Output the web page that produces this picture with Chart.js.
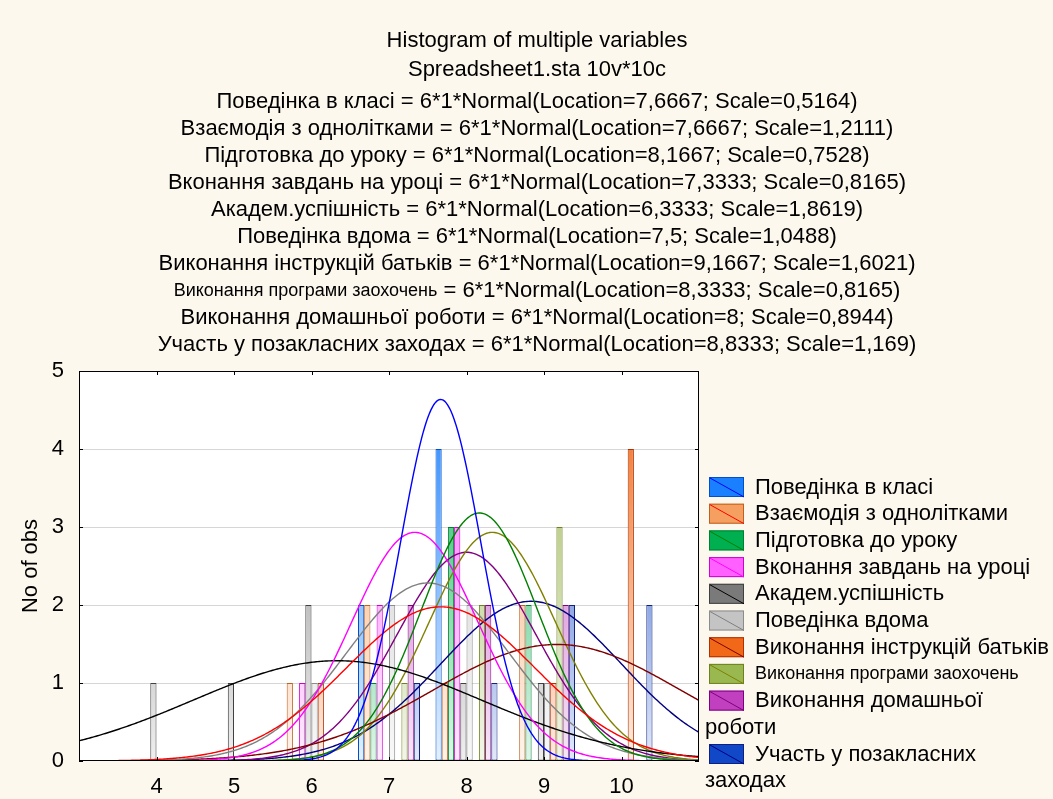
<!DOCTYPE html>
<html>
<head>
<meta charset="utf-8">
<script src="https://cdn.jsdelivr.net/npm/chart.js@4"></script>
<style>
  body { margin: 0; background: #fdf8ed; }
  #wrap { width: 1053px; height: 799px; }
</style>
</head>
<body>
<div id="wrap"><canvas id="hist" width="1053" height="799"></canvas></div>
<script>
// values on the x axis (bin centres, bin width 1)
const binValues = [4, 5, 6, 7, 8, 9, 10];

// counts per bin, one array per variable
const povedinkaKlasi     = [0, 0, 0, 2, 4, 0, 0];
const vzaiemodiia        = [0, 0, 1, 2, 1, 2, 0];
const pidhotovka         = [0, 0, 0, 1, 3, 2, 0];
const vykonanniaZavdan   = [0, 0, 1, 2, 3, 0, 0];
const akademUspishnist   = [1, 1, 2, 0, 1, 1, 0];
const povedinkaVdoma     = [0, 0, 1, 2, 2, 1, 0];
const instruktsiiBatkiv  = [0, 0, 1, 0, 0, 1, 4];
const prohramaZaokhochen = [0, 0, 0, 1, 2, 3, 0];
const domashniaRobota    = [0, 0, 0, 2, 2, 2, 0];
const pozaklasniZakhody  = [0, 0, 0, 1, 1, 2, 2];

const seriesNames = [
  "Поведінка в класі",
  "Взаємодія з однолітками",
  "Підготовка до уроку",
  "Вконання завдань на уроці",
  "Академ.успішність",
  "Поведінка вдома",
  "Виконання інструкцій батьків",
  "Виконання програми заохочень",
  "Виконання домашньої роботи",
  "Участь у позакласних заходах",
];

// fitted normal parameters, as printed in the title
const locations = [7.6667, 7.6667, 8.1667, 7.3333, 6.3333, 7.5, 9.1667, 8.3333, 8, 8.8333];
const scales    = [0.5164, 1.2111, 0.7528, 0.8165, 1.8619, 1.0488, 1.6021, 0.8165, 0.8944, 1.169];
const nObs = 6;
const binWidth = 1;

const headLines = ["Histogram of multiple variables", "Spreadsheet1.sta 10v*10c"];
const yTicks = [0, 1, 2, 3, 4, 5];
const xTicks = [4, 5, 6, 7, 8, 9, 10];

const allCounts = [povedinkaKlasi, vzaiemodiia, pidhotovka, vykonanniaZavdan, akademUspishnist,
  povedinkaVdoma, instruktsiiBatkiv, prohramaZaokhochen, domashniaRobota, pozaklasniZakhody];

const barFill  = ["#1a80ff", "#f5a060", "#00b050", "#ff60ff", "#7a7a7a", "#c4c4c4", "#f06818", "#9ab850", "#c040c0", "#1048c8"];
const barEdge  = ["#0050c8", "#c06020", "#008030", "#d000d0", "#404040", "#8c8c8c", "#b03000", "#708020", "#800080", "#102080"];
const curveCol = ["#0000ff", "#ff0000", "#008000", "#ff00ff", "#000000", "#808080", "#800000", "#808000", "#800080", "#000080"];
const smallIdx = 7; // this label is printed in a smaller font

const FONT = "'Liberation Sans', Arial, sans-serif";

function toWhite(hex, t) {
  const n = parseInt(hex.slice(1), 16);
  const r = (n >> 16) & 255, g = (n >> 8) & 255, b = n & 255;
  const m = (c) => Math.round(c + (255 - c) * t);
  return `rgb(${m(r)},${m(g)},${m(b)})`;
}

function normalCurve(mu, sigma) {
  const pts = [];
  for (let k = 0; k <= 400; k++) {
    const x = 3 + k * 0.02;
    const z = (x - mu) / sigma;
    pts.push({ x, y: nObs * binWidth * Math.exp(-0.5 * z * z) / (sigma * Math.sqrt(2 * Math.PI)) });
  }
  return pts;
}

const fmt = (v) => String(v).replace(".", ",");

const datasets = [];
allCounts.forEach((c, i) => {
  const pts = [];
  c.forEach((n, k) => { if (n > 0) pts.push({ x: binValues[k], y: n }); });
  datasets.push({
    type: "bar",
    label: seriesNames[i],
    data: pts,
    backgroundColor: (context) => {
      const area = context.chart.chartArea;
      if (!area) return barFill[i];
      const g = context.chart.ctx.createLinearGradient(0, area.top, 0, area.bottom);
      g.addColorStop(0, barFill[i]);
      g.addColorStop(1, toWhite(barFill[i], 0.88));
      return g;
    },
    borderColor: barEdge[i],
    borderWidth: 1,
    borderSkipped: false,
    categoryPercentage: 0.8,
    barPercentage: 1,
    order: 1,
  });
});
locations.forEach((mu, i) => {
  datasets.push({
    type: "line",
    label: seriesNames[i] + " fit",
    data: normalCurve(mu, scales[i]),
    borderColor: curveCol[i],
    borderWidth: 1.4,
    pointRadius: 0,
    fill: false,
    tension: 0,
    order: 0,
  });
});

const framePlugin = {
  id: "frame",
  beforeDraw(chart) {
    const { ctx, chartArea: a } = chart;
    ctx.save();
    ctx.fillStyle = "#ffffff";
    ctx.fillRect(a.left, a.top, a.right - a.left, a.bottom - a.top);
    ctx.restore();
  },
  afterDatasetsDraw(chart) {
    const { ctx, chartArea: a, scales: s } = chart;
    ctx.save();
    ctx.strokeStyle = "#000";
    ctx.lineWidth = 1;
    ctx.strokeRect(a.left + 0.5, a.top + 0.5, a.right - a.left - 1, a.bottom - a.top - 1);
    ctx.beginPath();
    xTicks.forEach((v) => {
      const px = Math.round(s.x.getPixelForValue(v)) + 0.5;
      ctx.moveTo(px, a.top); ctx.lineTo(px, a.top + 4);
      ctx.moveTo(px, a.bottom); ctx.lineTo(px, a.bottom - 4);
    });
    yTicks.forEach((v) => {
      const py = Math.round(s.y.getPixelForValue(v)) + 0.5;
      ctx.moveTo(a.left, py); ctx.lineTo(a.left + 4, py);
      ctx.moveTo(a.right, py); ctx.lineTo(a.right - 4, py);
    });
    ctx.stroke();
    ctx.restore();
  },
};

const textPlugin = {
  id: "texts",
  afterDraw(chart) {
    const ctx = chart.ctx;
    const big = `22px ${FONT}`;
    const small = `18px ${FONT}`;
    ctx.save();
    ctx.fillStyle = "#000";
    ctx.textBaseline = "middle";
    ctx.textAlign = "left";

    // title block
    const cx = 537;
    const lines = [];
    headLines.forEach((t) => lines.push([[t, big]]));
    seriesNames.forEach((name, i) => {
      const rest = ` = ${nObs}*${binWidth}*Normal(Location=${fmt(locations[i])}; Scale=${fmt(scales[i])})`;
      lines.push([[name, i === smallIdx ? small : big], [rest, big]]);
    });
    const lineY = [41, 70];
    for (let k = 0; k < seriesNames.length; k++) lineY.push(101.5 + k * 27.05);
    lines.forEach((parts, k) => {
      let w = 0;
      parts.forEach(([t, f]) => { ctx.font = f; w += ctx.measureText(t).width; });
      let x = cx - w / 2;
      parts.forEach(([t, f]) => { ctx.font = f; ctx.fillText(t, x, lineY[k]); x += ctx.measureText(t).width; });
    });

    // legend
    const boxX = 709, textX = 755, wrapX = 705, pitch = 26.7;
    const roomRight = chart.width - textX;
    let row = 0;
    const top0 = 477;
    seriesNames.forEach((name, i) => {
      const y = top0 + row * pitch;
      ctx.fillStyle = barFill[i];
      ctx.fillRect(boxX, y, 35, 20);
      ctx.strokeStyle = barEdge[i];
      ctx.lineWidth = 1;
      ctx.strokeRect(boxX + 0.5, y + 0.5, 34, 19);
      ctx.strokeStyle = curveCol[i];
      ctx.beginPath();
      ctx.moveTo(boxX + 1, y + 1); ctx.lineTo(boxX + 35, y + 20);
      ctx.stroke();

      ctx.fillStyle = "#000";
      ctx.font = i === smallIdx ? small : big;
      const words = name.split(" ");
      let first = name, second = "";
      if (ctx.measureText(name).width > roomRight) {
        let k = words.length - 1;
        while (k > 1 && ctx.measureText(words.slice(0, k).join(" ")).width > roomRight) k--;
        first = words.slice(0, k).join(" ");
        second = words.slice(k).join(" ");
      }
      ctx.fillText(first, textX, y + 10.5);
      row++;
      if (second) {
        ctx.fillText(second, wrapX, top0 + row * pitch + 10.5);
        row++;
      }
    });
    ctx.restore();
  },
};

new Chart(document.getElementById("hist"), {
  data: { datasets },
  options: {
    responsive: false,
    animation: false,
    devicePixelRatio: 1,
    layout: { padding: { top: 371, right: 354, bottom: 0, left: 0 } },
    plugins: { legend: { display: false }, tooltip: { enabled: false }, title: { display: false } },
    scales: {
      x: {
        type: "linear",
        offset: false,
        min: 3,
        max: 11,
        afterFit: (scale) => { scale.height = 38; },
        afterBuildTicks: (scale) => { scale.ticks = [3, ...xTicks, 11].map((v) => ({ value: v })); },
        ticks: {
          callback: (v) => (xTicks.includes(v) ? String(v) : ""),
          color: "#000",
          font: { size: 22, family: FONT },
          padding: 13,
          maxRotation: 0,
          autoSkip: false,
        },
        grid: { display: false, drawTicks: false, offset: false },
        border: { display: false },
      },
      y: {
        min: 0,
        max: 5,
        afterFit: (scale) => { scale.width = 79; },
        afterBuildTicks: (scale) => { scale.ticks = yTicks.map((v) => ({ value: v })); },
        ticks: {
          color: "#000",
          font: { size: 22, family: FONT },
          padding: 15,
        },
        grid: {
          drawTicks: false,
          color: (c) => (c.tick && c.tick.value > 0 && c.tick.value < 5 ? "#d6d6d6" : "rgba(0,0,0,0)"),
        },
        border: { display: false },
        title: {
          display: true,
          text: "No of obs",
          color: "#000",
          font: { size: 22, family: FONT },
          padding: { top: 18, bottom: 0 },
        },
      },
    },
  },
  plugins: [framePlugin, textPlugin],
});
</script>
</body>
</html>
